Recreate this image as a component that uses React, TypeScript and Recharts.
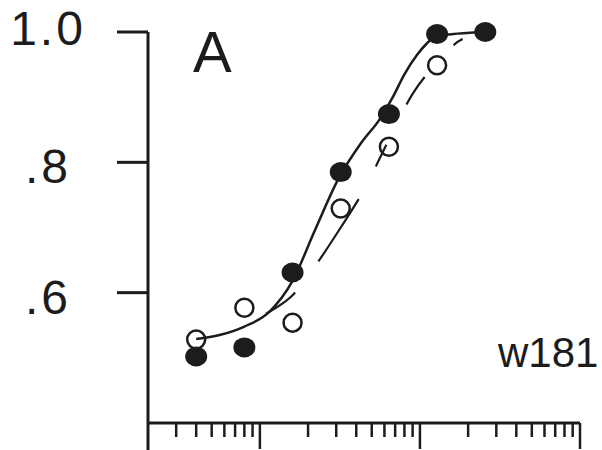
import React from 'react'
import {
  ComposedChart,
  Line,
  Scatter,
  XAxis,
  YAxis,
  ReferenceLine,
} from 'recharts'

// concentrations (log axis) and response fractions
const doses = [4, 8, 16, 32, 64, 128, 256]
const filledValues = [0.502, 0.516, 0.631, 0.785, 0.874, 0.997, 1.0]
const openValues = [0.528, 0.577, 0.554, 0.729, 0.824, 0.949]

// fitted curves
const solidFitX = [4, 5.6, 8, 11.5, 16, 22, 31, 43, 56, 67, 80, 96, 110, 128, 256]
const solidFitY = [0.529, 0.535, 0.548, 0.571, 0.618, 0.695, 0.775, 0.83, 0.866, 0.898, 0.935, 0.965, 0.982, 0.994, 1.0]
const dashFitX = [4, 8, 11, 16, 22, 32, 45, 64, 90, 128, 181, 256]
const dashFitY = [0.525, 0.548, 0.568, 0.596, 0.64, 0.7, 0.759, 0.835, 0.905, 0.953, 0.988, 0.997]

const yTicks = [0.6, 0.8, 1.0]
const yTickLabels = ['.6', '.8', '1.0']
const xMinorTicks = [3, 4, 5, 6, 7, 8, 9, 20, 30, 40, 50, 60, 70, 80, 90, 200, 300, 400, 500, 600, 700, 800, 900]
const xMajorTicks = [10, 100, 1000]

const panelLabel = 'A'
const strainLabel = 'w181'

const INK = '#1c1c1c'
const FONT = '"Liberation Sans", Arial, Helvetica, sans-serif'

const filledData = doses.map((x, i) => ({ x, y: filledValues[i] }))
const openData = openValues.map((y, i) => ({ x: doses[i], y }))
const solidData = solidFitX.map((x, i) => ({ x, y: solidFitY[i] }))
const dashData = dashFitX.map((x, i) => ({ x, y: dashFitY[i] }))
const allXTicks = [...xMinorTicks, ...xMajorTicks].sort((a, b) => a - b)

const XTick = (props: any) => {
  const { x, y, payload } = props
  const major = xMajorTicks.includes(payload.value)
  return <line x1={x} x2={x} y1={y} y2={y + (major ? 26 : 14)} stroke={INK} strokeWidth={2.5} />
}

const YTick = (props: any) => {
  const { x, y, payload } = props
  const idx = yTicks.indexOf(payload.value)
  const top = payload.value === 1.0
  return (
    <text
      x={x - 69}
      y={y + (top ? 13 : 21)}
      textAnchor="middle"
      fontSize={48}
      letterSpacing={3}
      fontFamily={FONT}
      fill={INK}
    >
      {yTickLabels[idx]}
    </text>
  )
}

const FilledDot = (props: any) => (
  <ellipse cx={props.cx} cy={props.cy} rx={11} ry={10} fill={INK} />
)

const OpenDot = (props: any) => (
  <circle cx={props.cx} cy={props.cy} r={9} fill="none" stroke={INK} strokeWidth={2.5} />
)

export default function App() {
  return (
    <div style={{ position: 'absolute', left: 0, top: 0, width: 602, height: 450, background: '#fff' }}>
      <ComposedChart width={602} height={450} margin={{ top: 32, right: 22, bottom: 0, left: 0 }}>
        <XAxis
          dataKey="x"
          type="number"
          scale="log"
          domain={[2, 1000]}
          ticks={allXTicks}
          interval={0}
          tick={<XTick />}
          tickLine={false}
          tickSize={0}
          tickMargin={0}
          height={27}
          axisLine={{ stroke: INK, strokeWidth: 3 }}
        />
        <YAxis
          type="number"
          domain={[0.4, 1.0]}
          ticks={yTicks}
          interval={0}
          tick={<YTick />}
          tickSize={31}
          tickMargin={0}
          width={148}
          tickLine={{ stroke: INK, strokeWidth: 3 }}
          axisLine={{ stroke: INK, strokeWidth: 3 }}
        />
        <ReferenceLine
          segment={[{ x: 2, y: 0.4 }, { x: 2, y: 0.35 }]}
          ifOverflow="visible"
          stroke={INK}
          strokeWidth={3}
        />
        <Line
          data={solidData}
          dataKey="y"
          type="monotone"
          stroke={INK}
          strokeWidth={2.5}
          dot={false}
          activeDot={false}
          isAnimationActive={false}
        />
        <Line
          data={dashData}
          dataKey="y"
          type="monotone"
          stroke={INK}
          strokeWidth={2.2}
          strokeDasharray="0 76 36 39 74 37 24 45 33 43 11 60"
          dot={false}
          activeDot={false}
          isAnimationActive={false}
        />
        <Scatter data={openData} dataKey="y" shape={<OpenDot />} isAnimationActive={false} />
        <Scatter data={filledData} dataKey="y" shape={<FilledDot />} isAnimationActive={false} />
      </ComposedChart>
      <svg width={602} height={450} style={{ position: 'absolute', left: 0, top: 0, pointerEvents: 'none' }}>
        <text x={193} y={72} fontSize={58} fontFamily={FONT} fill={INK}>
          {panelLabel}
        </text>
        <text x={498} y={367} fontSize={42} fontFamily={FONT} fill={INK}>
          {strainLabel}
        </text>
      </svg>
    </div>
  )
}
